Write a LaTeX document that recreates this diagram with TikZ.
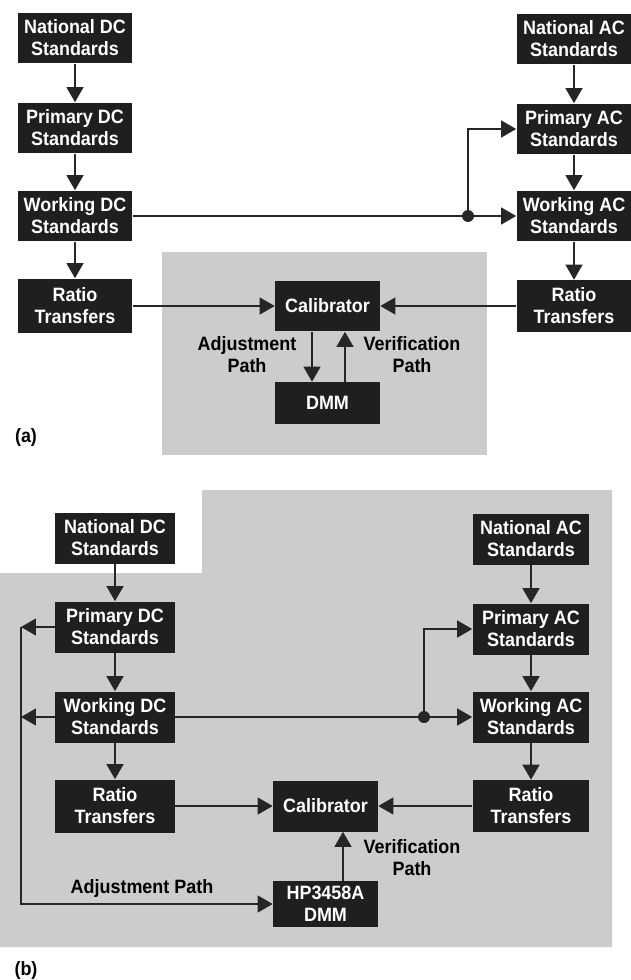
\documentclass[tikz,border=0pt]{standalone}
\usepackage{fontspec}
\setmainfont{Liberation Sans}[FakeStretch=0.93]
\usetikzlibrary{arrows.meta}

\begin{document}
\begin{tikzpicture}[x=0.02cm, y=-0.02cm, >={Triangle[length=3mm, width=3.4mm]},
	every node/.style={font=\fontsize{11}{12.5}\selectfont\bfseries},
	stdbox/.style={fill=black!88, text=white, align=center, inner sep=0pt, minimum width=2.3cm, minimum height=1.02cm},
	link/.style={draw=black!85, line width=0.8pt},
	joint/.style={circle, fill=black!85, inner sep=0pt, minimum size=0.24cm},
	shade/.style={fill=black!20}]
	\useasboundingbox (0,0) rectangle (631,980);
	\fill[shade] (162,252) rectangle (487,455);
	\node[stdbox] (ndcA) at (75,38) {National DC\\Standards};
	\node[stdbox] (pdcA) at (75,128) {Primary DC\\Standards};
	\node[stdbox] (wdcA) at (75,216) {Working DC\\Standards};
	\node[stdbox, minimum height=1.1cm] (rtlA) at (75,306) {Ratio\\Transfers};
	\node[stdbox] (nacA) at (574,39) {National AC\\Standards};
	\node[stdbox] (pacA) at (574,129) {Primary AC\\Standards};
	\node[stdbox] (wacA) at (574,216) {Working AC\\Standards};
	\node[stdbox, minimum height=1.04cm] (rtrA) at (574,306) {Ratio\\Transfers};
	\node[stdbox, minimum width=2.1cm] (calA) at (327.5,306) {Calibrator};
	\node[stdbox, minimum width=2.1cm, minimum height=0.84cm] (dmmA) at (327.5,403) {DMM};
	\node[joint] (jA) at (468,216) {};
	\draw[link, ->] (ndcA) -- (pdcA);
	\draw[link, ->] (pdcA) -- (wdcA);
	\draw[link, ->] (wdcA) -- (rtlA);
	\draw[link, ->] (nacA) -- (pacA);
	\draw[link, ->] (pacA) -- (wacA);
	\draw[link, ->] (wacA) -- (rtrA);
	\draw[link] (wdcA) -- (jA);
	\draw[link, ->] (jA) -- (wacA);
	\draw[link, ->] (jA) |- (pacA);
	\draw[link, ->] (rtlA) -- (calA);
	\draw[link, ->] (rtrA) -- (calA);
	\draw[link, ->] ([xshift=-0.31cm]calA.south) -- ([xshift=-0.31cm]dmmA.north);
	\draw[link, ->] ([xshift=0.35cm]dmmA.north) -- ([xshift=0.35cm]calA.south);
	\node[align=center] (adjA) at (247,355) {Adjustment\\Path};
	\node[align=center] (verA) at (412,355) {Verification\\Path};
	\node (capA) at (26,437) {(a)};
	\fill[shade] (202,490) -- (612,490) -- (612,947) -- (0,947) -- (0,573) -- (202,573) -- cycle;
	\node[stdbox, minimum width=2.4cm] (ndcB) at (115,538) {National DC\\Standards};
	\node[stdbox, minimum width=2.4cm] (pdcB) at (115,627) {Primary DC\\Standards};
	\node[stdbox, minimum width=2.4cm] (wdcB) at (115,717) {Working DC\\Standards};
	\node[stdbox, minimum width=2.4cm, minimum height=1.06cm] (rtlB) at (115,806) {Ratio\\Transfers};
	\node[stdbox, minimum width=2.34cm] (nacB) at (531,539) {National AC\\Standards};
	\node[stdbox, minimum width=2.34cm] (pacB) at (531,629) {Primary AC\\Standards};
	\node[stdbox, minimum width=2.34cm] (wacB) at (531,717) {Working AC\\Standards};
	\node[stdbox, minimum width=2.34cm, minimum height=1.04cm] (rtrB) at (531,806) {Ratio\\Transfers};
	\node[stdbox, minimum width=2.1cm] (calB) at (325.5,806) {Calibrator};
	\node[stdbox, minimum width=2.1cm, minimum height=0.92cm] (dmmB) at (325.5,904) {HP3458A\\DMM};
	\node[joint] (jB) at (424,717) {};
	\coordinate (fbB) at (21,627);
	\draw[link, ->] (ndcB) -- (pdcB);
	\draw[link, ->] (pdcB) -- (wdcB);
	\draw[link, ->] (wdcB) -- (rtlB);
	\draw[link, ->] (nacB) -- (pacB);
	\draw[link, ->] (pacB) -- (wacB);
	\draw[link, ->] (wacB) -- (rtrB);
	\draw[link] (wdcB) -- (jB);
	\draw[link, ->] (jB) -- (wacB);
	\draw[link, ->] (jB) |- (pacB);
	\draw[link, ->] (rtlB) -- (calB);
	\draw[link, ->] (rtrB) -- (calB);
	\draw[link, ->] (pdcB) -- (fbB);
	\draw[link, ->] (wdcB) -- (wdcB -| fbB);
	\draw[link, ->] (fbB) |- (dmmB);
	\draw[link, ->] ([xshift=0.35cm]dmmB.north) -- ([xshift=0.35cm]calB.south);
	\node (adjB) at (142,888) {Adjustment Path};
	\node[align=center] (verB) at (412,858) {Verification\\Path};
	\node (capB) at (26,970) {(b)};
\end{tikzpicture}
\end{document}
